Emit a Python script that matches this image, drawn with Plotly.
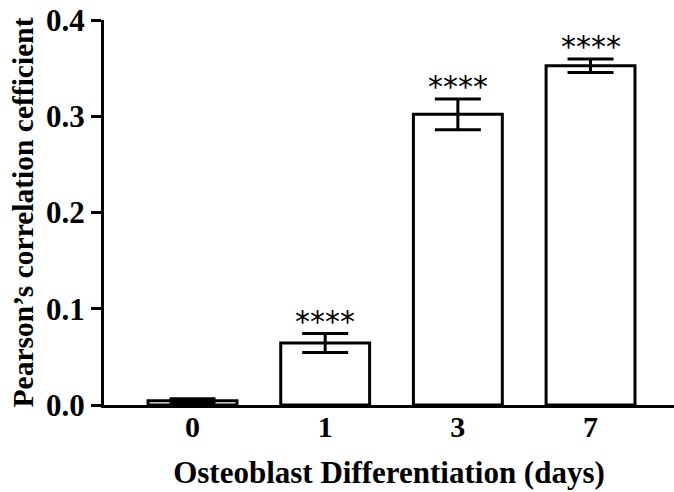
import plotly.graph_objects as go

categories = ["0", "1", "3", "7"]
means = [0.0045, 0.0644, 0.302, 0.3525]
sems = [0.002, 0.0098, 0.016, 0.007]
stars = ["", "****", "****", "****"]
y_ticks = [0.0, 0.1, 0.2, 0.3, 0.4]

xpos = list(range(len(categories)))
serif = "Liberation Serif"

fig = go.Figure()
fig.add_trace(go.Bar(
    x=xpos, y=means, width=0.67,
    marker=dict(color="white", line=dict(color="black", width=3)),
    error_y=dict(type="data", array=sems, visible=True, color="black", thickness=3, width=23),
    showlegend=False,
))
for xi, m, e, s in zip(xpos, means, sems, stars):
    if s:
        fig.add_annotation(x=xi, y=m + e, text=s, showarrow=False, yanchor="bottom",
                           yshift=-7, font=dict(family="DejaVu Sans", size=30, color="black"))

fig.update_layout(
    width=674, height=492,
    margin=dict(l=104, r=0, t=20, b=87),
    paper_bgcolor="white", plot_bgcolor="white",
    font=dict(family=serif, color="black"),
    xaxis=dict(
        range=[-0.667, 3.629], tickmode="array", tickvals=xpos,
        ticktext=["<b>%s</b>" % c for c in categories],
        showline=True, linecolor="black", linewidth=3, ticks="", showgrid=False, zeroline=False,
        tickfont=dict(family=serif, size=30, color="black"), ticklabelstandoff=-7,
        title=dict(text="<b>Osteoblast Differentiation (days)</b>",
                   font=dict(family=serif, size=31, color="black"), standoff=20),
    ),
    yaxis=dict(
        range=[0, 0.4], tickmode="array", tickvals=y_ticks,
        ticktext=["<b>%.1f</b>" % v for v in y_ticks],
        showline=True, linecolor="black", linewidth=3, ticks="outside", ticklen=10, tickwidth=3,
        tickcolor="black", showgrid=False, zeroline=False,
        tickfont=dict(family=serif, size=31, color="black"),
        title=dict(text="<b>Pearson’s correlation cefficient</b>",
                   font=dict(family=serif, size=29.5, color="black"), standoff=4),
    ),
)
fig.write_html("out.html")
